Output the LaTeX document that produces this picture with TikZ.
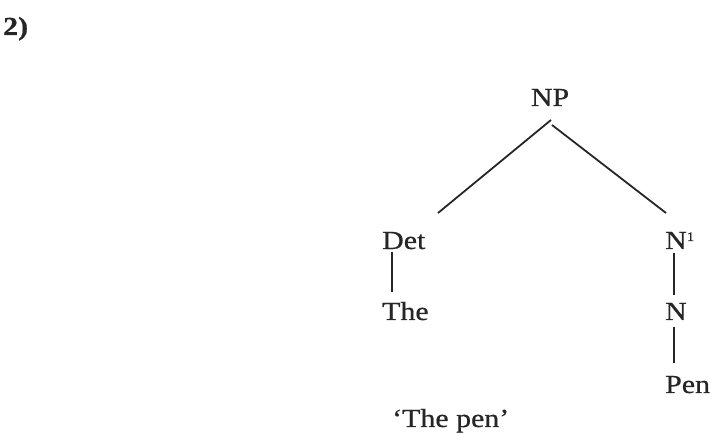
\documentclass[tikz,border=0pt]{standalone}
\usepackage{fontspec}
\setmainfont[FakeStretch=1.15,FakeBold=0.6]{Liberation Serif}
\usetikzlibrary{positioning, calc}

\tikzset{
  lbl/.style={anchor=base west, inner sep=0pt, text=black!85, font=\fontsize{26}{32}\selectfont},
  branch/.style={line width=1.8pt, color=black!85}
}

\begin{document}
\begin{tikzpicture}[x=1pt,y=-1pt]
\useasboundingbox (0,0) rectangle (724,446);
% example number
\node[lbl, font=\fontsize{26}{32}\selectfont\bfseries] (num) at (3,35) {2)};
% tree
\node[lbl, anchor=base] (np) at (550,106) {NP};
\node[lbl] (det) at (382,249) {Det};
\node[lbl] (the) at (382,320) {The};
\node[lbl] (nbar) at (665,249) {N\raisebox{8pt}{\fontsize{13}{15}\selectfont 1}};
\node[lbl] (n) at (665,320) {N};
\node[lbl] (pen) at (665,393) {Pen};
\node[lbl] (gloss) at (392,427) {`The pen'};
% branches
\draw[branch] ($(np.base)+(1,14)$) -- ($(det.base west)+(56,-36)$);
\draw[branch] ($(np.base)+(2,19)$) -- ($(nbar.base west)+(1,-36)$);
\draw[branch] ($(det.base west)+(10,3)$) -- ($(the.base west)+(10,-28)$);
\draw[branch] ($(nbar.base west)+(9,4)$) -- ($(n.base west)+(9,-25)$);
\draw[branch] ($(n.base west)+(9,7)$) -- ($(pen.base west)+(9,-30)$);
\end{tikzpicture}
\end{document}
